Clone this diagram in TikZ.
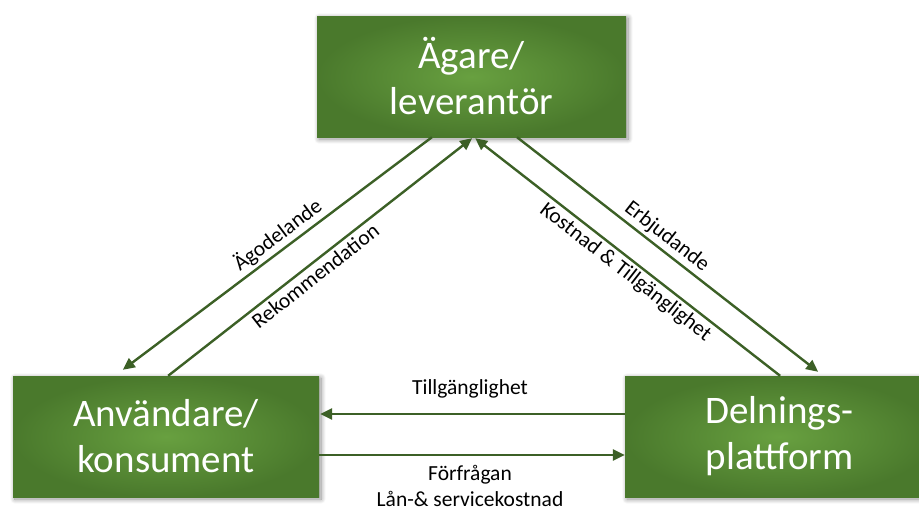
\documentclass[tikz,border=0pt]{standalone}
\usepackage{fontspec}
\setmainfont{Carlito}
\usetikzlibrary{arrows.meta,calc,shadows.blur}
\definecolor{gin}{RGB}{104,160,64}
\definecolor{gout}{RGB}{74,121,44}
\definecolor{arr}{RGB}{60,96,38}
\tikzset{
  box/.style={inner color=gin, outer color=gout, text=white, align=center,
    font=\fontsize{39}{46}\selectfont, minimum height=121pt, inner sep=0pt,
    blur shadow={shadow blur steps=10, shadow xshift=2pt, shadow yshift=-2pt, shadow opacity=45, shadow blur radius=5pt}},
  conn/.style={draw=arr, line width=2.4pt, -{Triangle[length=12pt,width=11pt]}},
  lbl/.style={font=\fontsize{21.5}{26}\selectfont, text=black, inner sep=3pt}
}
\begin{document}
\begin{tikzpicture}[x=1pt,y=-1pt]
\useasboundingbox (0,0) rectangle (919,509);
\clip (0,0) rectangle (919,509);
\node[box, minimum width=309pt] (top) at (471.5,76.5) {Ägare/\\leverantör};
\node[box, minimum width=306pt] (left) at (166,436.5) {Användare/\\konsument};
\node[box, minimum width=309pt] (right) at (779.5,436.5) {Delnings-\\plattform};
% top bottom edge points
\coordinate (tA) at ($(top.south west)!0.372!(top.south east)$);
\coordinate (tR) at ($(top.south west)!0.502!(top.south east)+(0,1)$);
\coordinate (tK) at ($(top.south west)!0.512!(top.south east)+(0,1)$);
\coordinate (tE) at ($(top.south west)!0.647!(top.south east)$);
\coordinate (lA) at ($(left.north west)!0.359!(left.north east)+(0,-6)$);
\coordinate (lR) at ($(left.north west)!0.507!(left.north east)$);
\coordinate (rK) at ($(right.north west)!0.502!(right.north east)$);
\coordinate (rE) at ($(right.north west)!0.625!(right.north east)+(0,-4)$);
\coordinate (rT) at ($(right.west)+(0,-22.5)$);
\coordinate (lT) at ($(left.east)+(1,-22.5)$);
\coordinate (lF) at ($(left.east)+(0,18.5)$);
\coordinate (rF) at ($(right.west)+(0,18.5)$);
\draw[conn] (tA) -- node[lbl, sloped, above, pos=0.47] {Ägodelande} (lA);
\draw[conn] (lR) -- node[lbl, sloped, below, pos=0.46] {Rekommendation} (tR);
\draw[conn] (rK) -- node[lbl, sloped, below, pos=0.48] {Kostnad \& Tillgänglighet} (tK);
\draw[conn] (tE) -- node[lbl, sloped, above, pos=0.47] {Erbjudande} (rE);
\draw[conn] (rT) -- (lT);
\draw[conn] (lF) -- (rF);
\node[lbl] (tl) at (470,389) {Tillgänglighet};
\node[lbl, align=center] (ff) at (470,486) {Förfrågan\\Lån-\& servicekostnad};
\end{tikzpicture}
\end{document}
